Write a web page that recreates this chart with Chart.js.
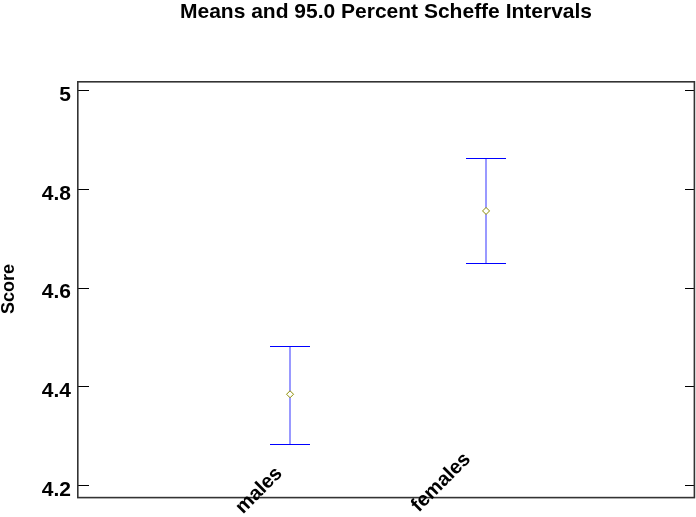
<!DOCTYPE html>
<html>
<head>
<meta charset="utf-8">
<script src="https://cdn.jsdelivr.net/npm/chart.js@4"></script>
<style>
html,body{margin:0;padding:0;background:#fff}
#wrap{width:696px;height:517px}
</style>
</head>
<body>
<div id="wrap"><canvas id="chart" width="696" height="517"></canvas></div>
<script>
// data
let groups = ["males", "females"]
let means = [4.384, 4.755]
let lower = [4.284, 4.650]
let upper = [4.482, 4.862]

let points = groups.map((g, i) => ({x: i + 1, y: means[i]}))

let font = "'Liberation Sans', Arial, sans-serif"

// intervals go under the mean markers
let barsPlugin = {
  id: "bars",
  beforeDatasetsDraw(chart){
    let ctx = chart.ctx
    let xs = chart.scales.x
    let ys = chart.scales.y
    ctx.save()
    ctx.strokeStyle = "#0000ff"
    ctx.lineWidth = 1
    groups.forEach((g, i) => {
      let x = Math.round(xs.getPixelForValue(i + 1))
      let yt = Math.round(ys.getPixelForValue(upper[i])) + 0.5
      let yb = Math.round(ys.getPixelForValue(lower[i])) + 0.5
      ctx.globalAlpha = 0.8
      ctx.beginPath()
      ctx.moveTo(x, yt); ctx.lineTo(x, yb)
      ctx.stroke()
      ctx.globalAlpha = 1
      ctx.beginPath()
      ctx.moveTo(x - 20, yt); ctx.lineTo(x + 20, yt)
      ctx.moveTo(x - 20, yb); ctx.lineTo(x + 20, yb)
      ctx.stroke()
    })
    ctx.restore()
  }
}

// frame, inside ticks and the slanted group names
let framePlugin = {
  id: "frame",
  afterDatasetsDraw(chart){
    let ctx = chart.ctx
    let a = chart.chartArea
    let xs = chart.scales.x
    let ys = chart.scales.y
    ctx.save()
    ctx.strokeStyle = "#000"
    ctx.lineWidth = 1
    ys.ticks.forEach(t => {
      let y = Math.round(ys.getPixelForValue(t.value)) + 0.5
      ctx.beginPath()
      ctx.moveTo(a.left, y); ctx.lineTo(a.left + 12, y)
      ctx.moveTo(a.right - 10, y); ctx.lineTo(a.right, y)
      ctx.stroke()
    })

    ctx.strokeStyle = "#333"
    ctx.lineWidth = 1.6
    ctx.strokeRect(Math.round(a.left) + 0.8, Math.round(a.top) + 0.8, Math.round(a.right - a.left) - 1.4, Math.round(a.bottom - a.top) - 0.2)

    // longer names sit further left and higher
    ctx.fillStyle = "#000"
    ctx.font = "bold 20px " + font
    ctx.textAlign = "center"
    ctx.textBaseline = "middle"
    groups.forEach((g, i) => {
      let x = xs.getPixelForValue(i + 1)
      let w = ctx.measureText(g).width
      ctx.save()
      ctx.translate(x + 14 - 0.79 * w, a.bottom + 19 - 0.45 * w)
      ctx.rotate(-Math.PI / 4)
      ctx.fillText(g, 0, 0)
      ctx.restore()
    })
    ctx.restore()
  }
}

new Chart(document.getElementById("chart"), {
  type: "scatter",
  data: {
    datasets: [{
      data: points,
      pointStyle: "rectRot",
      pointRadius: 3.5,
      borderWidth: 1,
      borderColor: "#8c8c00",
      backgroundColor: "#ffffff"
    }]
  },
  options: {
    responsive: false,
    animation: false,
    layout: {autoPadding: false, padding: {left: 0, right: 1, top: 0, bottom: 0}},
    plugins: {
      legend: {display: false},
      tooltip: {enabled: false},
      title: {
        display: true,
        fullSize: false,
        text: "Means and 95.0 Percent Scheffe Intervals",
        color: "#000",
        font: {family: font, size: 21, weight: "bold"},
        padding: {top: 0, bottom: 55.8}
      }
    },
    scales: {
      x: {
        type: "linear",
        min: -0.087,
        max: 3.066,
        grid: {display: false},
        border: {display: false},
        ticks: {display: false},
        afterFit(s){ s.height = 20 }
      },
      y: {
        min: 4.176,
        max: 5.018,
        grid: {display: false, drawTicks: false},
        border: {display: false},
        ticks: {
          stepSize: 0.2,
          includeBounds: false,
          padding: 6,
          labelOffset: 5,
          color: "#000",
          font: {family: font, size: 21, weight: "bold"},
          callback: v => Number(v.toFixed(1)).toString()
        },
        title: {
          display: true,
          text: "Score",
          color: "#000",
          padding: {top: 0, bottom: 0},
          font: {family: font, size: 18, weight: "bold", lineHeight: 1}
        },
        afterFit(s){ s.width = 77 }
      }
    }
  },
  plugins: [barsPlugin, framePlugin]
})
</script>
</body>
</html>
